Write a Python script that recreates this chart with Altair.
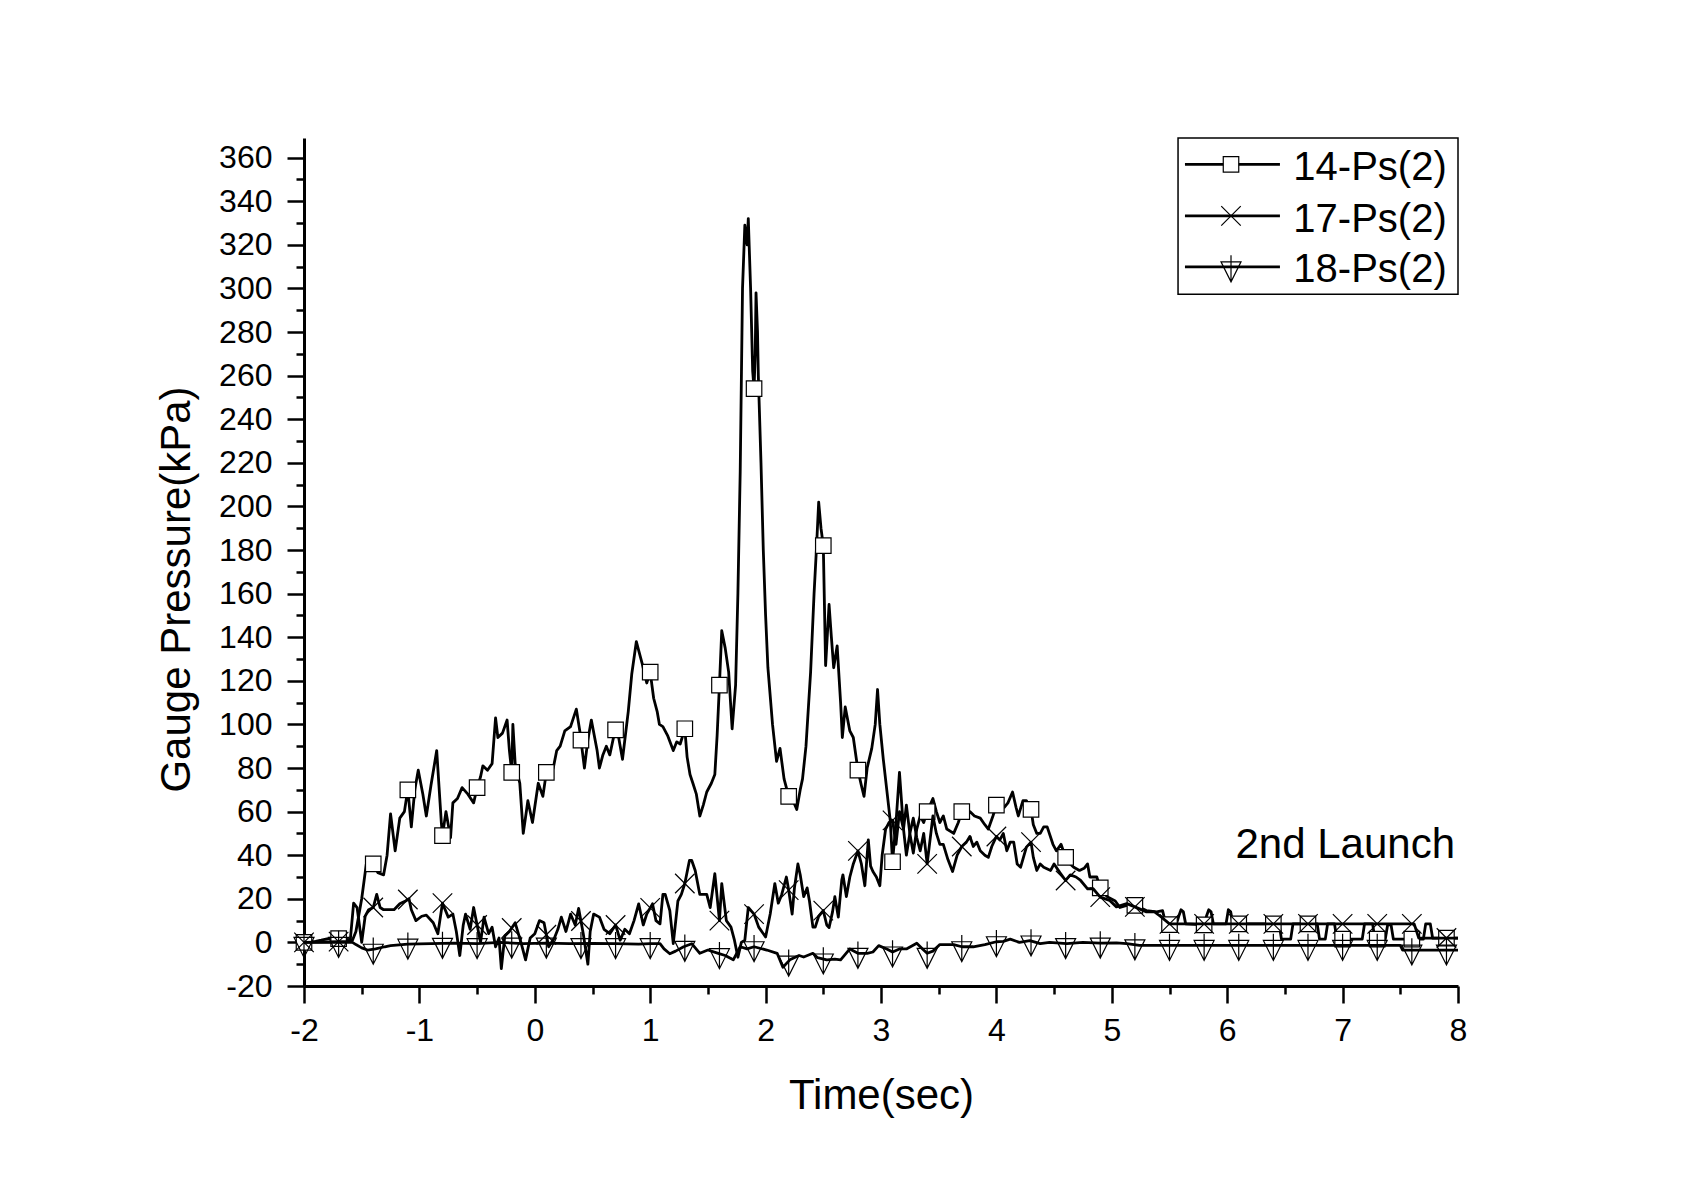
import altair as alt
import numpy as np
import pandas as pd

# ---------------- data ----------------
series_names = ["14-Ps(2)", "17-Ps(2)", "18-Ps(2)"]

t14 = [-2.0, -1.9, -1.85, -1.77, -1.65, -1.58, -1.55, -1.5, -1.46, -1.4, -1.36, -1.31, -1.28, -1.25,
       -1.21, -1.17, -1.13, -1.11, -1.1, -1.07, -1.04, -1.01, -0.97, -0.94, -0.9, -0.85, -0.81, -0.8, -0.77,
       -0.73, -0.71, -0.67, -0.63, -0.58, -0.53, -0.5, -0.47, -0.45, -0.41, -0.37, -0.34, -0.32, -0.28,
       -0.24, -0.22, -0.2, -0.19, -0.17, -0.13, -0.1, -0.06, -0.02, 0.03, 0.07, 0.1, 0.13, 0.16, 0.19,
       0.22, 0.26, 0.31, 0.36, 0.39, 0.43, 0.46, 0.49, 0.54, 0.56, 0.59, 0.62, 0.65, 0.69, 0.71, 0.74,
       0.76, 0.81, 0.84, 0.88, 0.9, 0.93, 0.97, 1.0, 1.03, 1.06, 1.08, 1.11, 1.15, 1.2, 1.23, 1.26, 1.3,
       1.32, 1.345, 1.37, 1.4, 1.43, 1.46, 1.49, 1.53, 1.56, 1.58, 1.6, 1.62, 1.65, 1.68, 1.71, 1.74,
       1.76, 1.78, 1.8, 1.82, 1.84, 1.85, 1.87, 1.888, 1.9, 1.91, 1.917, 1.93, 1.937, 1.96, 1.98, 2.0,
       2.02, 2.06, 2.095, 2.125, 2.16, 2.2, 2.23, 2.27, 2.3, 2.32, 2.35, 2.39, 2.42, 2.44, 2.46, 2.48,
       2.5, 2.52, 2.55, 2.57, 2.59, 2.62, 2.65, 2.665, 2.69, 2.73, 2.76, 2.8, 2.83, 2.853, 2.88, 2.92,
       2.95, 2.97, 2.99, 3.02, 3.05, 3.08, 3.1, 3.13, 3.16, 3.195, 3.22, 3.25, 3.28, 3.31, 3.34, 3.37,
       3.4, 3.45, 3.48, 3.51, 3.54, 3.57, 3.63, 3.67, 3.7, 3.73, 3.77, 3.81, 3.86, 3.9, 3.93, 3.97, 4.0,
       4.03, 4.07, 4.1, 4.14, 4.17, 4.19, 4.23, 4.26, 4.3, 4.32, 4.35, 4.38, 4.41, 4.44, 4.49, 4.52,
       4.56, 4.6, 4.64, 4.67, 4.72, 4.76, 4.79, 4.81, 4.87, 4.9, 4.96, 5.03, 5.07, 5.13, 5.2, 5.3, 5.39,
       5.44, 5.47, 5.56, 5.58, 5.6, 5.62, 5.64, 5.8, 5.82, 5.84, 5.86, 5.88, 5.99, 6.01, 6.03, 6.05,
       6.45, 6.47, 6.55, 6.57, 6.78, 6.8, 6.85, 6.87, 6.93, 6.95, 7.17, 7.19, 7.26, 7.28, 7.37, 7.39,
       7.42, 7.44, 7.7, 7.72, 7.76, 7.78, 8.0]
p14 = [0, 0.5, 1, 2, 1.5, 1, 5, 20, 36, 36, 32, 31, 40, 59,
       42, 57, 60, 67, 70, 53, 70, 79, 68, 58, 72, 88, 55, 49, 60,
       48, 64, 66, 71, 68, 64, 71, 76, 81, 79, 82, 103, 94, 96,
       102, 88, 78, 100, 82, 73, 50, 65, 55, 73, 67, 78, 76, 80, 88,
       90, 97, 99, 107, 97, 80, 93, 102, 88, 80, 86, 90, 86, 96, 99, 90,
       84, 106, 123, 138, 134, 128, 119, 124, 112, 106, 100, 99, 95, 88, 92, 91, 98,
       85, 77, 73, 68, 58, 63, 69, 73, 77, 95, 118, 143, 135, 124, 98, 118,
       160, 216, 300, 329, 320, 332, 300, 262, 254, 270, 298, 280, 260, 220, 180, 150,
       126, 100, 83, 89, 75, 67, 66, 61, 70, 75, 90, 124, 160, 180, 202, 190,
       182, 127, 155, 140, 126, 136, 110, 94, 108, 97, 94, 79, 72, 67, 80, 89,
       100, 116, 100, 84, 70, 56, 37, 55, 78, 52, 63, 50, 41, 52, 58, 55,
       60, 66, 60, 55, 58, 52, 50, 55, 60, 58, 60, 58, 57, 54, 52, 58, 63,
       62, 62, 64, 69, 62, 58, 65, 65, 61, 54, 50, 50, 53, 53, 45, 42,
       45, 39, 36, 34.5, 33, 34, 36, 30, 30, 25, 21, 19, 16, 17, 17, 14.6, 14,
       14.6, 8, 8.5, 12, 15, 14, 8.5, 8, 12, 15, 14, 8.5, 8.5, 15, 14, 8.5,
       8.5, 1.5, 1.5, 8.5, 8.5, 1.5, 1.5, 8.5, 8.5, 1.5, 1.5, 8.5, 8.5, 1.5, 1.5, 8,
       8, 1.5, 1.5, 8.5, 8.5, 2, 2]

t17 = [-2.0, -1.6, -1.57, -1.54, -1.51, -1.5, -1.47, -1.44, -1.4, -1.37, -1.34, -1.31, -1.22, -1.17,
       -1.12, -1.09, -1.07, -1.03, -0.98, -0.94, -0.88, -0.84, -0.8, -0.75, -0.71, -0.68, -0.65, -0.62,
       -0.6, -0.56, -0.53, -0.5, -0.47, -0.44, -0.4, -0.37, -0.34, -0.31, -0.29, -0.26, -0.22, -0.17,
       -0.12, -0.08, -0.04, 0.0, 0.04, 0.08, 0.12, 0.17, 0.2, 0.23, 0.27, 0.31, 0.35, 0.38, 0.42, 0.46,
       0.48, 0.51, 0.56, 0.6, 0.65, 0.7, 0.74, 0.78, 0.82, 0.86, 0.9, 0.94, 0.97, 1.02, 1.05, 1.085,
       1.11, 1.13, 1.17, 1.2, 1.24, 1.27, 1.3, 1.34, 1.36, 1.39, 1.43, 1.49, 1.52, 1.56, 1.6, 1.62,
       1.66, 1.7, 1.73, 1.76, 1.79, 1.82, 1.85, 1.9, 1.94, 2.0, 2.04, 2.08, 2.11, 2.14, 2.18, 2.2,
       2.23, 2.25, 2.28, 2.3, 2.33, 2.36, 2.38, 2.41, 2.43, 2.46, 2.5, 2.53, 2.55, 2.58, 2.6, 2.63,
       2.66, 2.67, 2.7, 2.73, 2.76, 2.8, 2.83, 2.86, 2.89, 2.91, 2.93, 2.96, 2.99, 3.01, 3.04, 3.07,
       3.1, 3.13, 3.16, 3.195, 3.22, 3.25, 3.28, 3.31, 3.34, 3.37, 3.4, 3.45, 3.48, 3.51, 3.54, 3.58,
       3.62, 3.66, 3.7, 3.74, 3.77, 3.8, 3.83, 3.86, 3.9, 3.93, 3.96, 4.0, 4.03, 4.06, 4.09, 4.12,
       4.15, 4.18, 4.21, 4.24, 4.26, 4.3, 4.32, 4.35, 4.38, 4.41, 4.47, 4.5, 4.55, 4.6, 4.64, 4.69,
       4.73, 4.79, 4.84, 4.9, 4.98, 5.04, 5.13, 5.2, 5.3, 5.37, 5.42, 5.5, 7.62, 7.66, 8.0]
p17 = [0, 0.5, 18, 16, 4, 0, 12, 15, 16, 22, 16, 15, 15, 17.7,
       19, 20, 15, 10, 12, 12.5, 9, 4, 18, 11.6, 13, 5, -6, 8,
       13, 6, 16, 8, 0, 11.6, 4, 7, -2, 2, -12, 3, 5, 9,
       0, -8, 2, 4, 10, 9, -2, 2, 6, 11.6, 5, 13, 8, 15.6, 4, -10,
       5, 13, 11.6, 6, 4, 8, 1, 6, 4, 10, 17.7, 8, 13, 17.7, 10, 8.5,
       22, 22, 14.6, -0.6, 19, 22, 27, 37.6, 37.6, 33, 22, 22, 16, 31.5, 10, 27,
       10, 7, 1, -6.8, 0, 1, 16, 13, 7, 2.5, 13, 27, 18, 22, 30, 24,
       13, 25, 36, 31, 21, 25, 19, 7, 7, 12, 14.6, 8, 6.8, 14, 21, 11.6,
       28.6, 31, 21, 30, 36, 42, 36, 26, 47, 35, 32.5, 30, 26, 40, 52, 55,
       56, 45, 60, 52, 40, 50, 57, 48, 42, 50, 36, 58, 50, 45, 45, 38,
       32.5, 40, 44, 46, 48.6, 44, 46, 42, 40, 39, 44, 48.6, 47, 50, 42, 46,
       46, 36, 34.5, 40, 43.7, 46, 39, 33, 36, 34.5, 33, 36, 32, 28.4, 31, 30,
       28.4, 24.6, 24.6, 20.8, 19.3, 16.3, 17.8, 16.3, 14, 14, 12, 8.5, 8.5, 2, 2]

t18 = [-2.0, -1.58, -1.55, -1.5, -1.45, -1.38, -1.3, -1.25, -1.1, -0.9, -0.7, -0.5, -0.3, -0.1,
       0.1, 0.3, 0.5, 0.7, 0.9, 1.0, 1.085, 1.12, 1.17, 1.22, 1.29, 1.36, 1.43, 1.5, 1.59, 1.65,
       1.72, 1.78, 1.84, 1.9, 2.01, 2.1, 2.15, 2.21, 2.29, 2.33, 2.41, 2.45, 2.53, 2.6, 2.65, 2.73,
       2.8, 2.88, 2.93, 2.98, 3.05, 3.1, 3.16, 3.22, 3.31, 3.36, 3.4, 3.45, 3.51, 3.63, 3.7, 3.8,
       3.9, 4.0, 4.06, 4.12, 4.2, 4.29, 4.38, 4.46, 4.61, 4.75, 4.9, 5.04, 5.13, 5.24, 7.5, 7.52, 8.0]
p18 = [0, 0, -1, -2.5, -3.5, -3, -2, -1.5, -0.8, -0.6, -0.3, -0.6, 0, -0.6,
       -0.3, -0.6, -0.5, -0.6, -0.8, -0.6, -0.6, -3, -5.2, -4, -2, -0.6, -5, -3.5, -5, -6,
       -8, -2, -3, -2, -3.5, -5, -11.4, -8, -6, -6.7, -5, -7, -8, -7.7, -8, -3,
       -5, -5, -4.4, -1.5, -3, -4.4, -3, -3, -0.4, -3, -5, -4, -1, -1, -2, -2,
       -1, 0.3, 0.5, 1.5, 0, 0.8, -0.6, 0, -0.6, 0, -0.3, -0.2, -0.6, -1.4, -1.4, -3.5, -3.5]

marker_t = [-2.0, -1.7, -1.4, -1.1, -0.8, -0.5, -0.2, 0.1, 0.4, 0.7, 1.0, 1.3, 1.6, 1.9, 2.2, 2.5,
            2.8, 3.1, 3.4, 3.7, 4.0, 4.3, 4.6, 4.9, 5.2, 5.5, 5.8, 6.1, 6.4, 6.7, 7.0, 7.3, 7.6, 7.9]

x_ticks = [-2, -1, 0, 1, 2, 3, 4, 5, 6, 7, 8]
x_minor = [-1.5, -0.5, 0.5, 1.5, 2.5, 3.5, 4.5, 5.5, 6.5, 7.5]
y_ticks = [-20, 0, 20, 40, 60, 80, 100, 120, 140, 160, 180, 200, 220, 240, 260, 280, 300, 320, 340, 360]
y_minor = [-10, 10, 30, 50, 70, 90, 110, 130, 150, 170, 190, 210, 230, 250, 270, 290, 310, 330, 350]

annotation = "2nd Launch"

# ---------------- chart ----------------
FONT = "Liberation Sans, Arial, Helvetica, sans-serif"
xs = alt.Scale(domain=[-2, 8], nice=False, zero=False)
ys = alt.Scale(domain=[-20, 369], nice=False, zero=False)

SQUARE = "square"
XSHAPE = "M-1,-1L1,1M-1,1L1,-1"
TRI = "M-1,-0.5L1,-0.5L0,1.5Z M0,-1.17L0,1.5"

LW = 2.8


def enc(df_chart, ax_x=None, ax_y=None, xf="t", yf="v"):
    return df_chart.encode(
        x=alt.X(f"{xf}:Q", scale=xs, axis=ax_x),
        y=alt.Y(f"{yf}:Q", scale=ys, axis=ax_y),
    )


main_x_axis = alt.Axis(
    values=x_ticks, labelExpr="'' + datum.value", title="Time(sec)", orient="bottom",
    titleFont=FONT, titleFontSize=42, titleFontWeight="normal", titleColor="black", titlePadding=29,
    labelFont=FONT, labelFontSize=32, labelColor="black", labelPadding=12, labelFlush=False,
    labelOverlap=False, tickSize=17, tickWidth=2.5, tickColor="black", domainColor="black",
    domainWidth=3, grid=False,
)
main_y_axis = alt.Axis(
    values=y_ticks, labelExpr="'' + datum.value", title="Gauge Pressure(kPa)", orient="left",
    titleFont=FONT, titleFontSize=42, titleFontWeight="normal", titleColor="black", titlePadding=20,
    titleY=451,
    labelFont=FONT, labelFontSize=32, labelColor="black", labelPadding=15, labelFlush=False,
    labelOverlap=False, tickSize=17, tickWidth=2.5, tickColor="black", domainColor="black",
    domainWidth=3, grid=False,
)
minor_x_axis = alt.Axis(values=x_minor, labels=False, domain=False, grid=False, orient="bottom",
                        tickSize=8, tickWidth=2.5, tickColor="black", title="")
minor_y_axis = alt.Axis(values=y_minor, labels=False, domain=False, grid=False, orient="left",
                        tickSize=8, tickWidth=2.5, tickColor="black", title="")


def series_layers(t, p, shape, size, fill, axes=None):
    df = pd.DataFrame({"t": t, "v": p})
    mdf = pd.DataFrame({"t": marker_t, "v": np.interp(marker_t, t, p)})
    ax_x, ax_y = (axes if axes else (None, None))
    line = enc(alt.Chart(df).mark_line(color="black", strokeWidth=LW, interpolate="linear",
                                       strokeJoin="round"), ax_x, ax_y)
    pts = enc(alt.Chart(mdf).mark_point(shape=shape, size=size, filled=fill is not None,
                                         fill=fill if fill else "transparent", stroke="black",
                                         strokeWidth=1.2, opacity=1))
    return line, pts


l14, m14 = series_layers(t14, p14, SQUARE, 240, "white", (main_x_axis, main_y_axis))
l17, m17 = series_layers(t17, p17, XSHAPE, 380, None)
l18, m18 = series_layers(t18, p18, TRI, 400, None)

# invisible layer carrying the minor-tick axes
minor_layer = enc(alt.Chart(pd.DataFrame({"t": marker_t, "v": np.interp(marker_t, t14, p14)}))
                  .mark_point(opacity=0), minor_x_axis, minor_y_axis)

# legend (placed in data coordinates)
box = enc(alt.Chart(pd.DataFrame({"t": [5.574], "t2": [8.0], "v": [369.0], "v2": [297.3]}))
          .mark_rect(fill="white", stroke="black", strokeWidth=1.5)).encode(
    x2=alt.X2("t2:Q"), y2=alt.Y2("v2:Q"))
leg_rows = pd.DataFrame({"t": [5.634] * 3, "t2": [6.457] * 3, "v": [356.9, 333.3, 309.9],
                         "vt": [349.7, 326.0, 303.0], "tt": [6.573] * 3, "tm": [6.033] * 3,
                         "name": series_names})
leg_lines = enc(alt.Chart(leg_rows).mark_rule(color="black", strokeWidth=LW)).encode(x2=alt.X2("t2:Q"))
leg_text = enc(alt.Chart(leg_rows).mark_text(align="left", baseline="alphabetic", font=FONT,
                                             fontSize=40, color="black"), xf="tt", yf="vt").encode(
    text="name:N")
leg_syms = []
for i, (shape, size, fill) in enumerate([(SQUARE, 240, "white"), (XSHAPE, 380, None), (TRI, 400, None)]):
    leg_syms.append(enc(alt.Chart(leg_rows.iloc[[i]]).mark_point(
        shape=shape, size=size, filled=fill is not None, fill=fill if fill else "transparent",
        stroke="black", strokeWidth=1.2, opacity=1), xf="tm"))

note = enc(alt.Chart(pd.DataFrame({"t": [7.974], "v": [38.5], "s": [annotation]})).mark_text(
    align="right", baseline="alphabetic", font=FONT, fontSize=42, color="black")).encode(text="s:N")

chart = alt.layer(
    l14, m14, l17, m17, l18, m18, minor_layer, box, leg_lines, *leg_syms, leg_text, note
).resolve_axis(x="independent", y="independent").properties(
    width=1154, height=848,
    padding={"left": 296, "top": 130, "right": 200, "bottom": 150},
    autosize=alt.AutoSizeParams(type="none"),
    background="white",
).configure_view(stroke=None)

chart.save("out.html", embed_options={"renderer": "svg", "actions": False})
